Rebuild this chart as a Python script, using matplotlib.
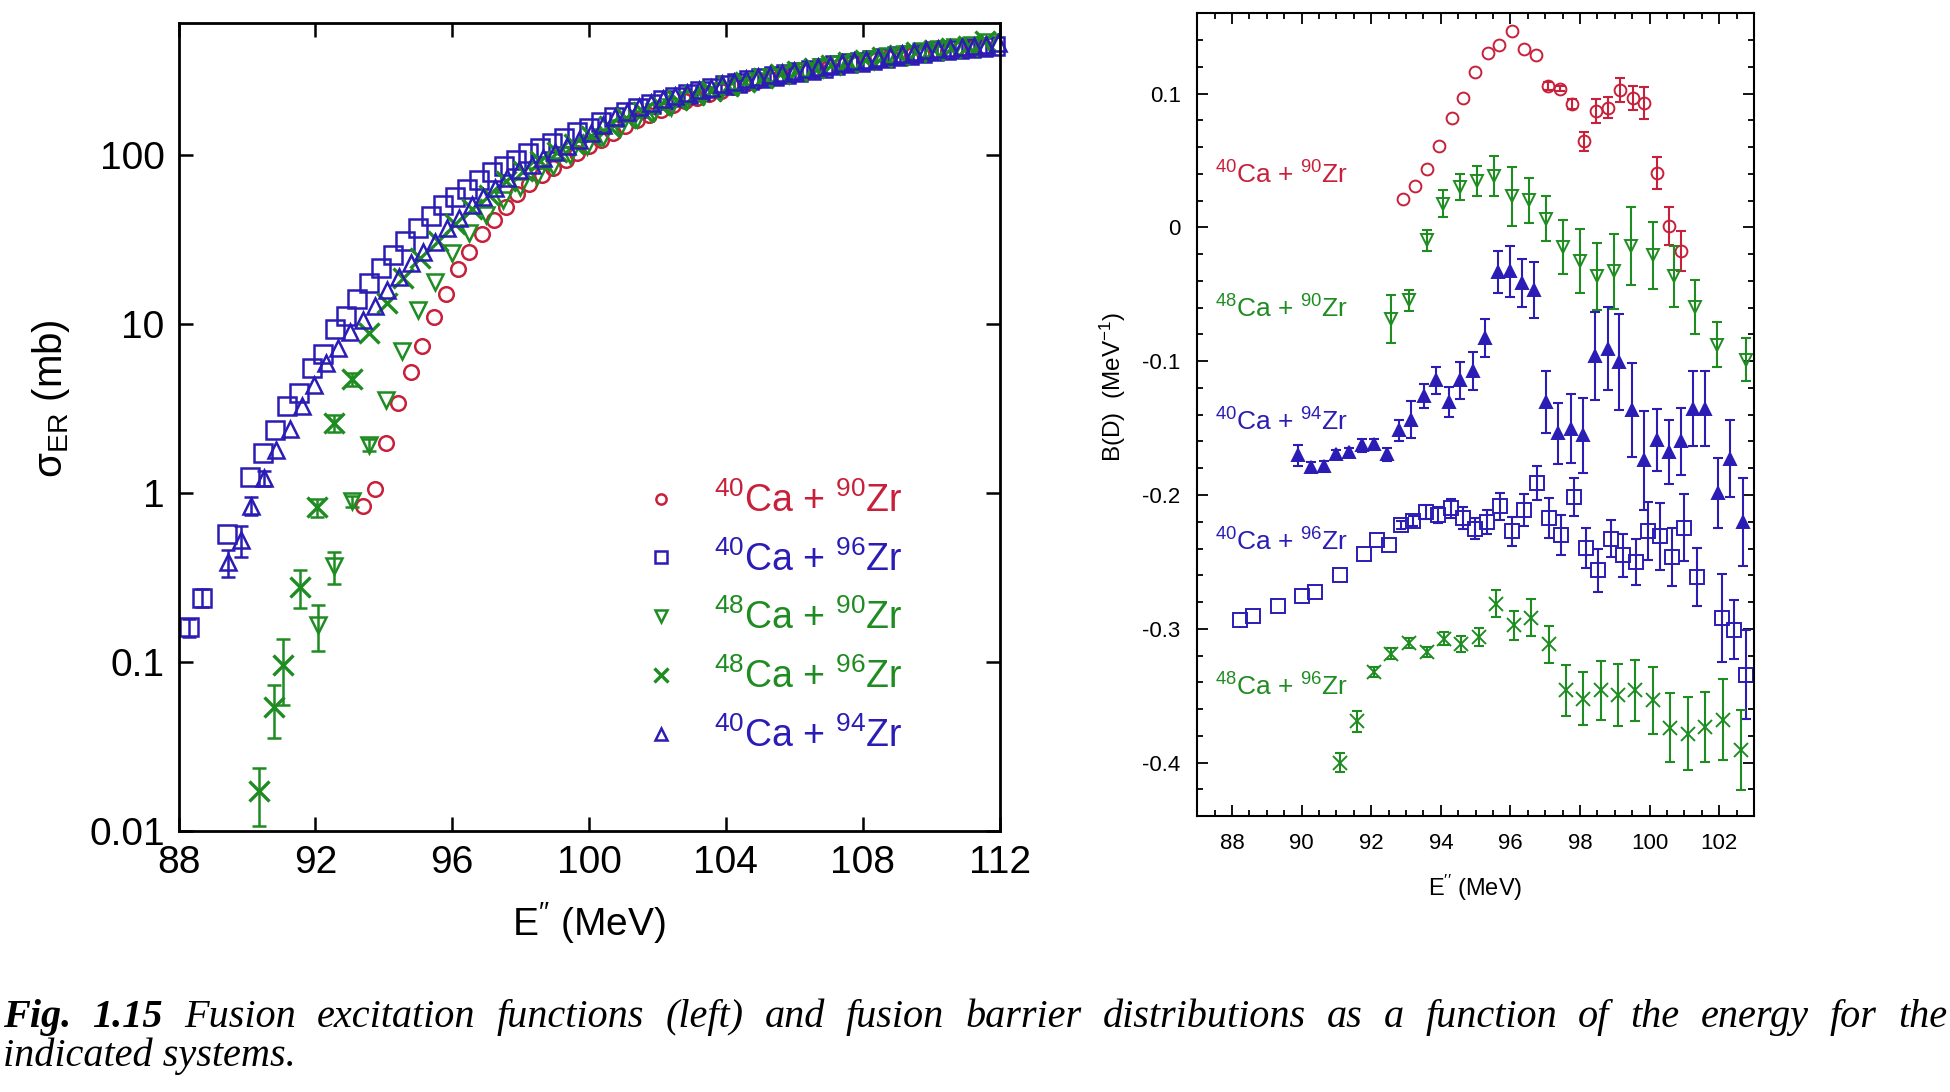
import numpy as np
import matplotlib
matplotlib.use("Agg")
import matplotlib.pyplot as plt
from matplotlib import ticker

plt.rcParams['font.family'] = ['Liberation Sans', 'DejaVu Sans']
plt.rcParams['mathtext.fontset'] = 'custom'
plt.rcParams['mathtext.rm'] = 'Liberation Sans'
plt.rcParams['mathtext.it'] = 'Liberation Sans:italic'
plt.rcParams['mathtext.bf'] = 'Liberation Sans:bold'
plt.rcParams['axes.unicode_minus'] = False

RED = '#c8203a'
BLUE = '#2a1cb4'
GREEN = '#1f8c22'

# ---- left panel: excitation functions sigma_ER (mb) vs E'' (MeV)
e_4090 = [93.40, 93.74, 94.06, 94.42, 94.78, 95.12, 95.46, 95.82, 96.16, 96.50, 96.86, 97.22, 97.57, 97.90,
          98.25, 98.61, 98.95, 99.32, 99.65, 100.00, 100.35, 100.70, 101.05, 101.40, 101.75, 102.10, 102.45,
          102.80, 103.15, 103.50, 103.85, 104.20, 104.55, 104.90, 105.25, 105.60, 105.95, 106.30, 106.65,
          107.00, 107.35, 107.70, 108.05, 108.40, 108.75, 109.10, 109.45, 109.80, 110.15, 110.50, 110.85,
          111.20, 111.55]
s_4090 = [0.84, 1.05, 1.98, 3.42, 5.22, 7.44, 11.0, 15.1, 21.1, 26.5, 34.1, 41.3, 49.4, 58.5, 67.3, 76.2,
          83.4, 93.4, 102, 112, 123, 135, 148, 160, 172, 184, 196, 207, 218, 228, 240, 252, 262, 272, 282,
          292, 302, 311, 320, 330, 339, 347, 355, 364, 373, 382, 391, 400, 408, 414, 420, 426, 432]

e_4096 = [88.30, 88.69, 89.40, 90.08, 90.46, 90.82, 91.18, 91.53, 91.89, 92.23, 92.57, 92.90, 93.22, 93.57,
          93.93, 94.27, 94.63, 95.01, 95.37, 95.72, 96.08, 96.44, 96.79, 97.15, 97.51, 97.86, 98.22, 98.56,
          98.92, 99.27, 99.64, 100.00, 100.36, 100.72, 101.08, 101.44, 101.80, 102.16, 102.52, 102.88,
          103.24, 103.60, 103.96, 104.32, 104.68, 105.04, 105.40, 105.76, 106.12, 106.48, 106.84, 107.20,
          107.56, 107.92, 108.28, 108.64, 109.00, 109.36, 109.72, 110.08, 110.44, 110.80, 111.16, 111.52,
          111.88]
s_4096 = [0.16, 0.24, 0.57, 1.25, 1.72, 2.36, 3.27, 3.89, 5.5, 6.6, 9.3, 11.2, 14.0, 17.4, 21.5, 25.5, 31.0,
          37.0, 43.5, 50.6, 56.2, 62.9, 71.1, 79.6, 86.4, 93.4, 102, 110, 117, 126, 136, 145, 156, 168, 178,
          190, 200, 211, 220, 229, 238, 248, 258, 267, 276, 285, 293, 300, 309, 318, 328, 338, 347, 355, 363,
          372, 382, 392, 402, 410, 415, 420, 426, 432, 440]
err_4096 = [0.02, 0.03]

e_4890 = [92.08, 92.55, 93.06, 93.56, 94.06, 94.54, 95.01, 95.49, 95.98, 96.49, 96.98, 97.49, 97.98, 98.49,
          98.95, 99.44, 99.93, 100.42, 100.91, 101.40, 101.89, 102.38, 102.87, 103.36, 103.85, 104.34,
          104.83, 105.32, 105.81, 106.30, 106.79, 107.28, 107.77, 108.26, 108.75, 109.24, 109.73, 110.22,
          110.71, 111.20, 111.69]
s_4890 = [0.166, 0.37, 0.89, 1.92, 3.55, 6.9, 12.0, 17.8, 26.2, 34.4, 44.1, 54.2, 64.9, 75.1, 86.1, 100, 112,
          128, 145, 162, 178, 193, 210, 225, 240, 256, 272, 288, 302, 315, 330, 344, 356, 368, 382, 396, 410,
          420, 432, 445, 462]
err_4890 = [0.05, 0.08, 0.07, 0.15]

e_4896 = [90.36, 90.80, 91.06, 91.55, 92.05, 92.54, 93.06, 93.56, 94.08, 94.57, 95.07, 95.57, 96.07, 96.57,
          97.07, 97.57, 98.07, 98.57, 99.07, 99.57, 100.07, 100.57, 101.07, 101.57, 102.07, 102.57, 103.07,
          103.57, 104.07, 104.57, 105.07, 105.57, 106.07, 106.57, 107.07, 107.57, 108.07, 108.57, 109.07,
          109.57, 110.07, 110.57, 111.07, 111.57]
s_4896 = [0.0172, 0.0544, 0.096, 0.279, 0.82, 2.58, 4.71, 8.8, 13.3, 18.6, 24.5, 31, 39, 48, 58, 70, 80, 92,
          104, 116, 130, 148, 165, 180, 196, 210, 225, 240, 255, 270, 285, 300, 312, 325, 340, 352, 365, 378,
          392, 405, 416, 428, 440, 470]
err_4896 = [0.0065, 0.019, 0.04, 0.07, 0.1, 0.3, 0.4]

e_4094 = [89.45, 89.82, 90.13, 90.50, 90.85, 91.27, 91.61, 91.96, 92.30, 92.67, 93.01, 93.38, 93.74, 94.08,
          94.44, 94.79, 95.13, 95.49, 95.84, 96.20, 96.57, 96.91, 97.25, 97.61, 97.96, 98.32, 98.66, 99.00,
          99.35, 99.70, 100.05, 100.40, 100.75, 101.10, 101.45, 101.80, 102.15, 102.50, 102.85, 103.20,
          103.55, 103.90, 104.25, 104.60, 104.95, 105.30, 105.65, 106.00, 106.35, 106.70, 107.05, 107.40,
          107.75, 108.10, 108.45, 108.80, 109.15, 109.50, 109.85, 110.20, 110.55, 110.90, 111.25, 111.60,
          111.95]
s_4094 = [0.39, 0.53, 0.84, 1.22, 1.80, 2.38, 3.27, 4.35, 5.9, 7.2, 9.0, 10.6, 12.7, 15.9, 19.0, 23.0, 26.6,
          30.7, 36.8, 42.2, 50.6, 56.6, 64.0, 73.0, 81.5, 87.0, 95.5, 104, 113, 123, 135, 150, 168, 180, 192,
          202, 213, 222, 231, 241, 250, 261, 270, 279, 288, 296, 303, 312, 321, 331, 341, 350, 358, 366, 375,
          386, 396, 407, 417, 422, 427, 432, 438, 447, 458]
err_4094 = [0.07, 0.11, 0.10, 0.12]

# ---- right panel: barrier distributions B(D) (MeV^-1)
be_4090 = [92.92, 93.25, 93.61, 93.96, 94.31, 94.65, 94.99, 95.35, 95.68, 96.04, 96.38, 96.73, 97.07, 97.42,
           97.77, 98.12, 98.46, 98.81, 99.16, 99.51, 99.85, 100.20, 100.55, 100.90]
bd_4090 = [0.0215, 0.031, 0.044, 0.061, 0.0816, 0.0968, 0.116, 0.1306, 0.1366, 0.147, 0.1336, 0.129, 0.1055,
           0.1037, 0.0923, 0.0644, 0.087, 0.0895, 0.103, 0.0965, 0.093, 0.0405, 0.0012, -0.0176]
bderr_4090 = [0, 0, 0, 0, 0, 0, 0, 0, 0, 0, 0, 0, 0.003, 0.002, 0.004, 0.007, 0.009, 0.008, 0.009, 0.009,
              0.012, 0.012, 0.014, 0.015]

be_4890 = [92.58, 93.08, 93.59, 94.07, 94.56, 95.05, 95.54, 96.04, 96.53, 97.02, 97.51, 98.00, 98.49, 98.98,
           99.47, 100.09, 100.70, 101.31, 101.94, 102.77]
bd_4890 = [-0.0686, -0.0544, -0.0096, 0.0178, 0.0303, 0.0347, 0.0385, 0.0233, 0.0203, 0.0066, -0.0146, -0.025,
           -0.0365, -0.0328, -0.0138, -0.0208, -0.0365, -0.0594, -0.0875, -0.0988]
bderr_4890 = [0.018, 0.008, 0.008, 0.010, 0.010, 0.011, 0.015, 0.022, 0.017, 0.017, 0.020, 0.024, 0.025,
              0.028, 0.029, 0.025, 0.023, 0.020, 0.017, 0.016]

be_4094 = [89.89, 90.28, 90.64, 91.00, 91.37, 91.73, 92.08, 92.44, 92.80, 93.15, 93.51, 93.87, 94.22, 94.56,
           94.91, 95.27, 95.63, 95.98, 96.33, 96.67, 97.02, 97.37, 97.73, 98.08, 98.44, 98.79, 99.13, 99.49,
           99.85, 100.20, 100.55, 100.90, 101.26, 101.60, 101.96, 102.32, 102.67]
bd_4094 = [-0.1704, -0.1791, -0.1786, -0.1696, -0.1679, -0.1629, -0.1621, -0.1696, -0.1516, -0.1436, -0.1261,
           -0.1142, -0.1304, -0.1142, -0.1072, -0.0826, -0.0333, -0.0328, -0.0415, -0.0465, -0.1304, -0.154,
           -0.1503, -0.1553, -0.0963, -0.0905, -0.1005, -0.1366, -0.174, -0.159, -0.1679, -0.160, -0.1354,
           -0.1354, -0.1985, -0.1728, -0.22]
bderr_4094 = [0.008, 0.004, 0.004, 0.003, 0.003, 0.005, 0.004, 0.005, 0.008, 0.014, 0.009, 0.010, 0.011, 0.014,
              0.014, 0.014, 0.016, 0.019, 0.018, 0.021, 0.023, 0.023, 0.026, 0.028, 0.033, 0.031, 0.036, 0.035,
              0.037, 0.023, 0.024, 0.025, 0.028, 0.028, 0.026, 0.029, 0.033]

be_4096 = [88.23, 88.59, 89.31, 90.02, 90.38, 91.09, 91.80, 92.16, 92.52, 92.86, 93.21, 93.57, 93.93, 94.28,
           94.63, 94.99, 95.34, 95.70, 96.04, 96.39, 96.75, 97.11, 97.46, 97.82, 98.17, 98.53, 98.88, 99.24,
           99.60, 99.94, 100.29, 100.65, 101.00, 101.35, 102.07, 102.42, 102.76]
bd_4096 = [-0.2932, -0.2907, -0.2827, -0.2752, -0.2725, -0.26, -0.2443, -0.2339, -0.2376, -0.2224, -0.2194,
           -0.2127, -0.2152, -0.21, -0.2172, -0.2252, -0.2202, -0.2085, -0.2271, -0.211, -0.191, -0.2169,
           -0.2301, -0.2015, -0.2394, -0.2563, -0.2326, -0.2451, -0.25, -0.2269, -0.2309, -0.2463, -0.2244,
           -0.2613, -0.2917, -0.3006, -0.3342]
bderr_4096 = [0, 0, 0, 0, 0, 0, 0, 0, 0, 0.003, 0.004, 0.005, 0.006, 0.007, 0.008, 0.008, 0.009, 0.010, 0.011,
              0.012, 0.013, 0.015, 0.015, 0.014, 0.015, 0.016, 0.014, 0.016, 0.017, 0.022, 0.025, 0.022, 0.025,
              0.022, 0.033, 0.022, 0.033]

be_4896 = [91.09, 91.58, 92.08, 92.58, 93.08, 93.59, 94.09, 94.59, 95.09, 95.59, 96.10, 96.60, 97.10, 97.60,
           98.09, 98.59, 99.09, 99.59, 100.09, 100.59, 101.10, 101.60, 102.10, 102.63]
bd_4896 = [-0.4, -0.3691, -0.3323, -0.3186, -0.3106, -0.3173, -0.3073, -0.3116, -0.3061, -0.2812, -0.2974,
           -0.2917, -0.3116, -0.346, -0.3522, -0.346, -0.3497, -0.346, -0.3534, -0.3739, -0.3783, -0.3734,
           -0.3679, -0.3908]
bderr_4896 = [0.007, 0.008, 0.004, 0.004, 0.004, 0.004, 0.005, 0.006, 0.007, 0.010, 0.011, 0.014, 0.014, 0.019,
              0.020, 0.022, 0.023, 0.023, 0.025, 0.026, 0.027, 0.026, 0.030, 0.030]

labels = [r'$^{40}$Ca + $^{90}$Zr', r'$^{40}$Ca + $^{96}$Zr', r'$^{48}$Ca + $^{90}$Zr',
          r'$^{48}$Ca + $^{96}$Zr', r'$^{40}$Ca + $^{94}$Zr']
elabel = r'E$^{\prime\prime}$ (MeV)'

fig = plt.figure(figsize=(19.5, 10.92), dpi=100)
fig.patch.set_facecolor('white')

# ================= left panel
ax = fig.add_axes([0.0916, 0.239, 0.421, 0.7397])
left_series = [
    (e_4090, s_4090, None, 'o', RED, 10.5),
    (e_4096, s_4096, err_4096, 's', BLUE, 13),
    (e_4890, s_4890, err_4890, 'v', GREEN, 12),
    (e_4896, s_4896, err_4896, 'x', GREEN, 14),
    (e_4094, s_4094, err_4094, '^', BLUE, 12),
]
handles = []
for (e, s, err, mk, col, ms), lab in zip(left_series, labels):
    if err is not None:
        n = len(err)
        ax.errorbar(e[:n], s[:n], yerr=err, fmt='none', ecolor=col, elinewidth=1.8,
                    capsize=5, capthick=1.8)
    h, = ax.plot(e, s, linestyle='none', marker=mk, ms=ms, mfc='none', mec=col,
                 mew=1.8 if mk != 'x' else 2.4, color=col, label=lab, clip_on=False)
    handles.append(h)

ax.set_yscale('log')
ax.set_xlim(88, 112)
ax.set_ylim(0.01, 600)
ax.set_xticks([88, 92, 96, 100, 104, 108, 112])
ax.set_yticks([0.01, 0.1, 1, 10, 100])
ax.yaxis.set_major_formatter(ticker.FuncFormatter(lambda v, p: f'{v:g}'))
ax.yaxis.set_minor_locator(ticker.NullLocator())
ax.tick_params(which='major', direction='in', length=10, width=1.8, labelsize=28,
               top=True, right=True, pad=10)
for sp in ax.spines.values():
    sp.set_linewidth(2.0)
ax.set_xlabel(elabel, fontsize=28, labelpad=14)
ax.set_ylabel('σ$_{\\mathrm{ER}}$ (mb)', fontsize=29, labelpad=12)
ax.yaxis.label.set_y(0.535)

ax.legend(handles=handles, loc='center left', bbox_to_anchor=(0.565, 0.263), frameon=False,
          fontsize=27, markerscale=0.7, handlelength=1.0, handletextpad=0.9, labelspacing=0.565,
          borderpad=0, borderaxespad=0, labelcolor='linecolor')

# ================= right panel
bx = fig.add_axes([0.614, 0.2527, 0.2855, 0.735])
right_series = [
    (be_4090, bd_4090, bderr_4090, 'o', RED, 8.5, 'none'),
    (be_4890, bd_4890, bderr_4890, 'v', GREEN, 9, 'none'),
    (be_4094, bd_4094, bderr_4094, '^', BLUE, 9, BLUE),
    (be_4096, bd_4096, bderr_4096, 's', BLUE, 9.5, 'none'),
    (be_4896, bd_4896, bderr_4896, 'x', GREEN, 10, 'none'),
]
for e, b, err, mk, col, ms, fc in right_series:
    e = np.asarray(e); b = np.asarray(b); err = np.asarray(err)
    m = err > 0
    bx.errorbar(e[m], b[m], yerr=err[m], fmt='none', ecolor=col, elinewidth=1.5,
                capsize=3.5, capthick=1.5)
    bx.plot(e, b, linestyle='none', marker=mk, ms=ms, mfc=fc, mec=col, mew=1.4)

bx.set_xlim(87, 103)
bx.set_ylim(-0.44, 0.16)
bx.set_xticks([88, 90, 92, 94, 96, 98, 100, 102])
bx.xaxis.set_minor_locator(ticker.MultipleLocator(0.5))
bx.set_yticks([-0.4, -0.3, -0.2, -0.1, 0.0, 0.1])
bx.yaxis.set_minor_locator(ticker.MultipleLocator(0.02))
bx.yaxis.set_major_formatter(ticker.FuncFormatter(lambda v, p: '0' if abs(v) < 1e-9 else f'{v:.1f}'))
bx.tick_params(which='both', direction='in', top=True, right=True, width=1.3)
bx.tick_params(which='major', length=8, labelsize=16, pad=12)
bx.tick_params(which='minor', length=4)
for sp in bx.spines.values():
    sp.set_linewidth(1.5)
bx.set_xlabel(elabel, fontsize=17, labelpad=14)
bx.set_ylabel('B(D)  (MeV$^{-1}$)', fontsize=17.5, labelpad=10)
bx.yaxis.label.set_y(0.535)

text_pos = [(0.039, RED, labels[0]), (-0.0607, GREEN, labels[2]), (-0.1453, BLUE, labels[4]),
            (-0.2351, BLUE, labels[1]), (-0.3435, GREEN, labels[3])]
for yv, col, lab in text_pos:
    bx.text(87.5, yv, lab, color=col, fontsize=19, va='center', ha='left')

# ================= caption (justified first line)
W = 1950.0
serif = 'Liberation Serif'
line1 = [('Fig.', 'bold'), ('1.15', 'bold')] + [(w, 'normal') for w in
         'Fusion excitation functions (left) and fusion barrier distributions as a function of the energy for the'.split()]
y1 = 1 - 1027 / 1092
y2 = 1 - 1066 / 1092
txts = [fig.text(0, y1, w, fontsize=29, family=serif, style='italic', weight=wt, va='baseline')
        for w, wt in line1]
fig.canvas.draw()
rend = fig.canvas.get_renderer()
widths = [t.get_window_extent(rend).width for t in txts]
x0, x1 = 3.0, 1947.0
gap = (x1 - x0 - sum(widths)) / (len(txts) - 1)
xpos = x0
for t, w in zip(txts, widths):
    t.set_x(xpos / W)
    xpos += w + gap
fig.text(x0 / W, y2, 'indicated systems.', fontsize=29, family=serif, style='italic', va='baseline')

fig.savefig('out.png', dpi=100, facecolor='white')
